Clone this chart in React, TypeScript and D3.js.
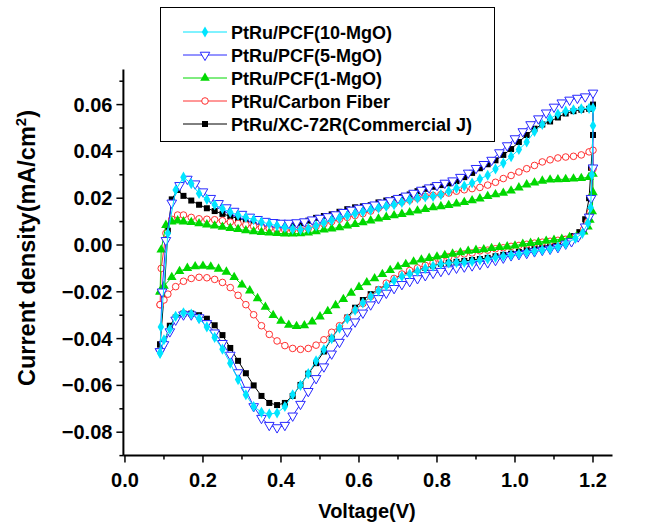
import React from 'react';
import * as d3 from 'd3';

type Pt = [number, number];

const X_TICKS_MAJOR = [0.0, 0.2, 0.4, 0.6, 0.8, 1.0, 1.2];
const X_TICKS_MINOR = [0.1, 0.3, 0.5, 0.7, 0.9, 1.1];
const Y_TICKS_MAJOR = [-0.08, -0.06, -0.04, -0.02, 0.0, 0.02, 0.04, 0.06];
const Y_TICKS_MINOR = [-0.09, -0.07, -0.05, -0.03, -0.01, 0.01, 0.03, 0.05, 0.07];

const SERIES_NAMES = [
  'PtRu/PCF(10-MgO)',
  'PtRu/PCF(5-MgO)',
  'PtRu/PCF(1-MgO)',
  'PtRu/Carbon Fiber',
  'PtRu/XC-72R(Commercial J)',
];

// PtRu/PCF(10-MgO) — anodic then cathodic sweep
const PCF10: Pt[] = [
  [0.09,-0.0462],[0.092,-0.035],[0.11,0.005],[0.13,0.0235],[0.15,0.029],[0.17,0.0262],[0.19,0.022],[0.21,0.0195],
  [0.23,0.0172],[0.25,0.0155],[0.27,0.014],[0.29,0.0128],[0.31,0.0118],[0.33,0.0108],[0.35,0.0098],[0.37,0.009],
  [0.39,0.0082],[0.41,0.0075],[0.43,0.0068],[0.45,0.0066],[0.47,0.007],[0.49,0.0082],[0.51,0.0094],[0.53,0.0105],
  [0.55,0.0115],[0.57,0.0125],[0.59,0.0134],[0.61,0.0141],[0.63,0.015],[0.65,0.0158],[0.67,0.0165],[0.69,0.0172],
  [0.71,0.0182],[0.73,0.0192],[0.75,0.02],[0.77,0.0205],[0.79,0.0208],[0.81,0.0215],[0.83,0.023],[0.85,0.0243],
  [0.87,0.0252],[0.89,0.0265],[0.91,0.0282],[0.93,0.0298],[0.95,0.0325],[0.97,0.035],[0.99,0.0378],[1.01,0.0408],
  [1.03,0.044],[1.05,0.0485],[1.07,0.0515],[1.09,0.054],[1.11,0.056],[1.13,0.0572],[1.15,0.0578],[1.17,0.0582],
  [1.19,0.0584],[1.2,0.0585],
  [1.2,0.051],[1.197,0.03],[1.194,0.016],[1.187,0.0093],[1.173,0.005],[1.155,0.0028],[1.13,0.0005],[1.11,-0.0008],
  [1.09,-0.0016],[1.07,-0.0021],[1.05,-0.0026],[1.03,-0.0031],[1.01,-0.0038],[0.99,-0.0043],[0.97,-0.0048],
  [0.95,-0.0053],[0.93,-0.006],[0.91,-0.0064],[0.89,-0.007],[0.87,-0.0074],[0.85,-0.0075],[0.83,-0.0077],
  [0.81,-0.0081],[0.79,-0.009],[0.77,-0.01],[0.75,-0.0112],[0.73,-0.0124],[0.71,-0.0134],[0.69,-0.0152],
  [0.67,-0.0175],[0.65,-0.0196],[0.63,-0.022],[0.61,-0.0247],[0.59,-0.0278],[0.57,-0.0315],[0.55,-0.0355],
  [0.53,-0.04],[0.51,-0.0447],[0.49,-0.0495],[0.47,-0.055],[0.45,-0.06],[0.43,-0.064],[0.41,-0.069],
  [0.39,-0.0718],[0.37,-0.0722],[0.35,-0.0715],[0.33,-0.069],[0.31,-0.064],[0.29,-0.0575],[0.27,-0.0505],
  [0.25,-0.0445],[0.23,-0.0395],[0.21,-0.035],[0.19,-0.0315],[0.17,-0.0295],[0.15,-0.029],[0.13,-0.0305],
  [0.115,-0.036],[0.1,-0.0405],[0.09,-0.0462],
];

// PtRu/PCF(5-MgO)
const PCF5: Pt[] = [
  [0.09,-0.0455],[0.095,-0.02],[0.105,0.002],[0.12,0.018],[0.14,0.0255],[0.16,0.0282],[0.18,0.0262],[0.2,0.0228],
  [0.22,0.02],[0.24,0.0178],[0.26,0.016],[0.28,0.0145],[0.3,0.0132],[0.32,0.012],[0.34,0.011],[0.36,0.0102],
  [0.38,0.0097],[0.4,0.0094],[0.42,0.0094],[0.44,0.0096],[0.46,0.01],[0.48,0.0108],[0.5,0.0115],[0.52,0.0122],
  [0.54,0.013],[0.56,0.014],[0.58,0.015],[0.6,0.0158],[0.62,0.0165],[0.64,0.0172],[0.66,0.018],[0.68,0.019],
  [0.7,0.02],[0.72,0.021],[0.74,0.0222],[0.76,0.0235],[0.78,0.0245],[0.8,0.0255],[0.82,0.0265],[0.84,0.0275],
  [0.86,0.029],[0.88,0.0308],[0.9,0.0328],[0.92,0.0345],[0.94,0.0363],[0.96,0.0395],[0.98,0.0425],[1.0,0.0455],
  [1.02,0.0485],[1.04,0.0515],[1.06,0.054],[1.08,0.0565],[1.1,0.059],[1.12,0.0608],[1.14,0.062],[1.16,0.0628],
  [1.18,0.0634],[1.2,0.065],
  [1.2,0.033],[1.195,0.02],[1.19,0.012],[1.18,0.0078],[1.162,0.0036],[1.145,0.0015],[1.13,0.0005],[1.11,-0.001],
  [1.09,-0.0017],[1.07,-0.0022],[1.05,-0.0028],[1.03,-0.0035],[1.01,-0.004],[0.99,-0.0045],[0.97,-0.0055],
  [0.95,-0.0065],[0.93,-0.0075],[0.91,-0.0082],[0.89,-0.0088],[0.87,-0.0093],[0.85,-0.0098],[0.83,-0.0105],
  [0.81,-0.0112],[0.79,-0.012],[0.77,-0.013],[0.75,-0.0143],[0.73,-0.0155],[0.71,-0.0168],[0.69,-0.0185],
  [0.67,-0.0205],[0.65,-0.0228],[0.63,-0.0255],[0.61,-0.029],[0.59,-0.0328],[0.57,-0.037],[0.55,-0.0415],
  [0.53,-0.0465],[0.51,-0.052],[0.49,-0.057],[0.47,-0.0625],[0.45,-0.068],[0.43,-0.073],[0.41,-0.077],
  [0.39,-0.078],[0.37,-0.077],[0.35,-0.074],[0.33,-0.069],[0.31,-0.062],[0.29,-0.0545],[0.27,-0.047],
  [0.25,-0.042],[0.23,-0.0375],[0.21,-0.0335],[0.19,-0.031],[0.17,-0.0298],[0.15,-0.0298],[0.13,-0.032],
  [0.115,-0.037],[0.1,-0.0425],[0.09,-0.0455],
];

// PtRu/PCF(1-MgO)
const PCF1: Pt[] = [
  [0.09,-0.02],[0.093,-0.002],[0.105,0.0085],[0.12,0.01],[0.135,0.0104],[0.15,0.01],[0.17,0.0097],[0.19,0.0092],
  [0.21,0.0087],[0.23,0.0082],[0.25,0.0077],[0.27,0.0072],[0.29,0.0067],[0.31,0.0062],[0.33,0.0058],[0.35,0.0055],
  [0.37,0.0052],[0.39,0.005],[0.41,0.0048],[0.43,0.0048],[0.45,0.0049],[0.47,0.0052],[0.49,0.0058],[0.51,0.0065],
  [0.53,0.007],[0.55,0.0075],[0.57,0.0082],[0.59,0.0089],[0.61,0.0096],[0.63,0.0104],[0.65,0.0112],[0.67,0.0119],
  [0.69,0.0126],[0.71,0.0132],[0.73,0.0139],[0.75,0.0146],[0.77,0.0153],[0.79,0.016],[0.81,0.0165],[0.83,0.017],
  [0.85,0.0176],[0.87,0.0183],[0.89,0.019],[0.91,0.0198],[0.93,0.0208],[0.95,0.0216],[0.97,0.0222],[0.99,0.0232],
  [1.01,0.0245],[1.03,0.0258],[1.05,0.0266],[1.07,0.0274],[1.09,0.0279],[1.11,0.028],[1.13,0.0281],[1.15,0.0283],
  [1.17,0.0285],[1.19,0.029],[1.2,0.0303],
  [1.2,0.0225],[1.198,0.0143],[1.192,0.0107],[1.187,0.0078],[1.176,0.0057],[1.158,0.0036],[1.14,0.0033],
  [1.12,0.0025],[1.1,0.0021],[1.08,0.0017],[1.06,0.0012],[1.04,0.0008],[1.02,0.0004],[1.0,-0.0003],[0.98,-0.0007],
  [0.96,-0.001],[0.94,-0.0014],[0.92,-0.0019],[0.9,-0.0022],[0.88,-0.0026],[0.86,-0.0032],[0.84,-0.0038],
  [0.82,-0.0044],[0.8,-0.005],[0.78,-0.0056],[0.76,-0.0063],[0.74,-0.0072],[0.72,-0.0082],[0.7,-0.0093],
  [0.68,-0.0108],[0.66,-0.0125],[0.64,-0.0143],[0.62,-0.016],[0.6,-0.018],[0.58,-0.0205],[0.56,-0.0232],
  [0.54,-0.0258],[0.52,-0.0283],[0.5,-0.0306],[0.48,-0.0328],[0.46,-0.0344],[0.44,-0.0347],[0.42,-0.0342],
  [0.4,-0.0325],[0.38,-0.03],[0.36,-0.0265],[0.34,-0.0228],[0.32,-0.0195],[0.3,-0.017],[0.28,-0.0138],
  [0.26,-0.0115],[0.24,-0.0102],[0.22,-0.0093],[0.2,-0.009],[0.18,-0.0092],[0.16,-0.0099],[0.14,-0.0112],
  [0.12,-0.0138],[0.1,-0.0175],[0.09,-0.02],
];

// PtRu/Carbon Fiber
const CARBON_FIBER: Pt[] = [
  [0.09,-0.0255],[0.093,-0.01],[0.105,0.005],[0.12,0.011],[0.135,0.0128],[0.15,0.0128],[0.17,0.0118],[0.19,0.0112],
  [0.21,0.011],[0.23,0.0108],[0.25,0.0104],[0.27,0.0098],[0.29,0.0092],[0.31,0.0086],[0.33,0.008],[0.35,0.0075],
  [0.37,0.007],[0.39,0.0066],[0.41,0.0064],[0.43,0.0064],[0.45,0.0066],[0.47,0.0071],[0.49,0.008],[0.51,0.009],
  [0.53,0.01],[0.55,0.011],[0.57,0.0118],[0.59,0.0126],[0.61,0.0134],[0.63,0.0145],[0.65,0.0158],[0.67,0.0168],
  [0.69,0.0176],[0.71,0.0184],[0.73,0.0192],[0.75,0.02],[0.77,0.0208],[0.79,0.0212],[0.81,0.0216],[0.83,0.0222],
  [0.85,0.023],[0.87,0.0236],[0.89,0.0241],[0.91,0.0246],[0.93,0.0256],[0.95,0.0268],[0.97,0.0284],[0.99,0.0297],
  [1.01,0.0312],[1.03,0.0326],[1.05,0.034],[1.07,0.0355],[1.09,0.0364],[1.11,0.0372],[1.13,0.0376],[1.15,0.0379],
  [1.17,0.0385],[1.19,0.0398],[1.2,0.0405],
  [1.2,0.0325],[1.197,0.021],[1.193,0.014],[1.187,0.01],[1.176,0.0067],[1.155,0.0036],[1.13,0.0024],[1.11,0.002],
  [1.09,0.0016],[1.07,0.0012],[1.05,0.0008],[1.03,0.0003],[1.01,-0.0002],[0.99,-0.0006],[0.97,-0.0012],
  [0.95,-0.0016],[0.93,-0.0022],[0.91,-0.0025],[0.89,-0.0034],[0.87,-0.0038],[0.85,-0.004],[0.83,-0.005],
  [0.81,-0.0062],[0.79,-0.0075],[0.77,-0.0087],[0.75,-0.0098],[0.73,-0.0109],[0.71,-0.0124],[0.69,-0.0143],
  [0.67,-0.0163],[0.65,-0.0192],[0.63,-0.022],[0.61,-0.025],[0.59,-0.0278],[0.57,-0.0312],[0.55,-0.0345],
  [0.53,-0.0373],[0.51,-0.0405],[0.49,-0.0428],[0.47,-0.0442],[0.45,-0.0446],[0.43,-0.0442],[0.41,-0.043],
  [0.39,-0.041],[0.37,-0.0382],[0.35,-0.0345],[0.33,-0.0298],[0.31,-0.0255],[0.29,-0.0215],[0.27,-0.0182],
  [0.25,-0.016],[0.23,-0.0147],[0.21,-0.014],[0.19,-0.0138],[0.17,-0.0143],[0.15,-0.0155],[0.13,-0.0178],
  [0.11,-0.021],[0.1,-0.0235],[0.09,-0.0255],
];

// PtRu/XC-72R(Commercial J)
const XC72R: Pt[] = [
  [0.09,-0.0425],[0.1,-0.022],[0.11,0.006],[0.12,0.0195],[0.135,0.0235],[0.15,0.021],[0.17,0.019],[0.19,0.0172],
  [0.21,0.0157],[0.23,0.0145],[0.25,0.0133],[0.27,0.0123],[0.29,0.0113],[0.31,0.0105],[0.33,0.0099],[0.35,0.0097],
  [0.37,0.0096],[0.39,0.0095],[0.41,0.0093],[0.43,0.0092],[0.45,0.0094],[0.47,0.0104],[0.49,0.0116],[0.51,0.0124],
  [0.53,0.0131],[0.55,0.0142],[0.57,0.0153],[0.59,0.0161],[0.61,0.0165],[0.63,0.017],[0.65,0.0182],[0.67,0.019],
  [0.69,0.0196],[0.71,0.0205],[0.73,0.0216],[0.75,0.023],[0.77,0.024],[0.79,0.0249],[0.81,0.0256],[0.83,0.0263],
  [0.85,0.0273],[0.87,0.029],[0.89,0.0308],[0.91,0.0328],[0.93,0.0345],[0.95,0.0362],[0.97,0.0385],[0.99,0.041],
  [1.01,0.044],[1.03,0.047],[1.05,0.0497],[1.07,0.0515],[1.09,0.0528],[1.11,0.0545],[1.13,0.0562],[1.15,0.0572],
  [1.17,0.0578],[1.19,0.0582],[1.2,0.06],
  [1.2,0.047],[1.195,0.033],[1.19,0.02],[1.18,0.011],[1.165,0.0055],[1.15,0.0038],[1.13,0.0026],[1.11,0.0012],
  [1.09,0.0],[1.07,-0.0007],[1.05,-0.0012],[1.03,-0.002],[1.01,-0.003],[0.99,-0.0037],[0.97,-0.0042],[0.95,-0.0048],
  [0.93,-0.0055],[0.91,-0.006],[0.89,-0.0064],[0.87,-0.0068],[0.85,-0.0072],[0.83,-0.0076],[0.81,-0.008],
  [0.79,-0.0088],[0.77,-0.0098],[0.75,-0.0107],[0.73,-0.0116],[0.71,-0.0127],[0.69,-0.0145],[0.67,-0.017],
  [0.65,-0.019],[0.63,-0.021],[0.61,-0.0235],[0.59,-0.0268],[0.57,-0.031],[0.55,-0.035],[0.53,-0.04],
  [0.51,-0.0455],[0.49,-0.0505],[0.47,-0.055],[0.45,-0.0598],[0.43,-0.0645],[0.41,-0.0675],[0.39,-0.0684],
  [0.37,-0.0675],[0.35,-0.0645],[0.33,-0.06],[0.31,-0.0548],[0.29,-0.0495],[0.27,-0.044],[0.25,-0.0385],
  [0.23,-0.0343],[0.21,-0.0315],[0.19,-0.03],[0.17,-0.0293],[0.15,-0.0293],[0.13,-0.031],[0.115,-0.0345],
  [0.1,-0.042],[0.09,-0.0425],
];

const SERIES_DATA = [PCF10, PCF5, PCF1, CARBON_FIBER, XC72R];
const SERIES_COLORS = ['#00E5FF', '#2828FF', '#00D800', '#FF3030', '#000000'];
const SERIES_MARKERS = ['diamond', 'triDown', 'triUp', 'circle', 'square'];
const DRAW_ORDER = [4, 3, 2, 1, 0];

const FONT = "Arial, 'Liberation Sans', sans-serif";

const W = 665;
const H = 531;

const x = d3.scaleLinear().domain([-0.004, 1.25]).range([123.4, 612.5]);
const y = d3.scaleLinear().domain([-0.09, 0.075]).range([455.6, 69.5]);

function Marker({ kind, cx, cy, color }: { kind: string; cx: number; cy: number; color: string }) {
  if (kind === 'circle') {
    return <circle cx={cx} cy={cy} r={3.3} fill="white" stroke={color} strokeWidth={1} />;
  }
  if (kind === 'square') {
    const d = d3.symbol().type(d3.symbolSquare).size(36)() as string;
    return <path d={d} transform={`translate(${cx},${cy})`} fill={color} />;
  }
  if (kind === 'diamond') {
    const d = d3.symbol().type(d3.symbolDiamond).size(36)() as string;
    return <path d={d} transform={`translate(${cx},${cy})`} fill={color} />;
  }
  if (kind === 'triUp') {
    const d = d3.symbol().type(d3.symbolTriangle).size(40)() as string;
    return <path d={d} transform={`translate(${cx},${cy})`} fill={color} />;
  }
  const d = d3.symbol().type(d3.symbolTriangle).size(40)() as string;
  return (
    <path d={d} transform={`translate(${cx},${cy}) rotate(180)`} fill="white" stroke={color} strokeWidth={1} />
  );
}

export default function App() {
  const line = d3
    .line<Pt>()
    .x((d) => x(d[0]))
    .y((d) => y(d[1]));

  const axisY0 = y.range()[0];
  const axisX0 = x.range()[0];

  return (
    <svg
      width={W}
      height={H}
      style={{ position: 'absolute', left: 0, top: 0, background: 'white' }}
      fontFamily={FONT}
    >
      <rect x={0} y={0} width={W} height={H} fill="white" />

      {/* series */}
      {DRAW_ORDER.map((si) => (
        <g key={si}>
          <path d={line(SERIES_DATA[si]) as string} fill="none" stroke={SERIES_COLORS[si]} strokeWidth={1} />
          {SERIES_DATA[si].map((p, i) => (
            <Marker key={i} kind={SERIES_MARKERS[si]} cx={x(p[0])} cy={y(p[1])} color={SERIES_COLORS[si]} />
          ))}
        </g>
      ))}

      {/* axes */}
      <line x1={axisX0} x2={x.range()[1]} y1={axisY0} y2={axisY0} stroke="black" strokeWidth={2} />
      <line x1={axisX0} x2={axisX0} y1={y.range()[1]} y2={axisY0} stroke="black" strokeWidth={2} />
      {X_TICKS_MAJOR.map((t) => (
        <g key={'xm' + t}>
          <line x1={x(t)} x2={x(t)} y1={axisY0} y2={axisY0 + 7} stroke="black" strokeWidth={1.5} />
          <text x={x(t)} y={axisY0 + 31.5} textAnchor="middle" fontSize={20} fontWeight="bold">
            {d3.format('.1f')(t)}
          </text>
        </g>
      ))}
      {X_TICKS_MINOR.map((t) => (
        <line key={'xn' + t} x1={x(t)} x2={x(t)} y1={axisY0} y2={axisY0 + 4} stroke="black" strokeWidth={1.5} />
      ))}
      {Y_TICKS_MAJOR.map((t) => (
        <g key={'ym' + t}>
          <line x1={axisX0 - 7} x2={axisX0} y1={y(t)} y2={y(t)} stroke="black" strokeWidth={1.5} />
          <text x={axisX0 - 11} y={y(t) + 7} textAnchor="end" fontSize={20} fontWeight="bold">
            {d3.format('.2f')(t).replace('-', '\u2212')}
          </text>
        </g>
      ))}
      {Y_TICKS_MINOR.map((t) => (
        <line key={'yn' + t} x1={axisX0 - 4} x2={axisX0} y1={y(t)} y2={y(t)} stroke="black" strokeWidth={1.5} />
      ))}

      {/* axis titles */}
      <text x={367} y={518} textAnchor="middle" fontSize={20} fontWeight="bold">
        Voltage(V)
      </text>
      <text transform="translate(35,248) rotate(-90)" textAnchor="middle" fontSize={23.5} fontWeight="bold">
        Current density(mA/cm<tspan dy={-9} fontSize={15}>2</tspan><tspan dy={9}>)</tspan>
      </text>

      {/* legend */}
      <rect x={160.5} y={7.5} width={334} height={134} fill="white" stroke="black" strokeWidth={1} />
      {SERIES_NAMES.map((name, i) => {
        const cy = 32 + i * 23;
        return (
          <g key={name}>
            <line x1={183} x2={227} y1={cy} y2={cy} stroke={SERIES_COLORS[i]} strokeWidth={1} />
            <Marker kind={SERIES_MARKERS[i]} cx={205} cy={cy} color={SERIES_COLORS[i]} />
            <text x={231} y={cy + 6.5} fontSize={18} fontWeight="bold">
              {name}
            </text>
          </g>
        );
      })}
    </svg>
  );
}
